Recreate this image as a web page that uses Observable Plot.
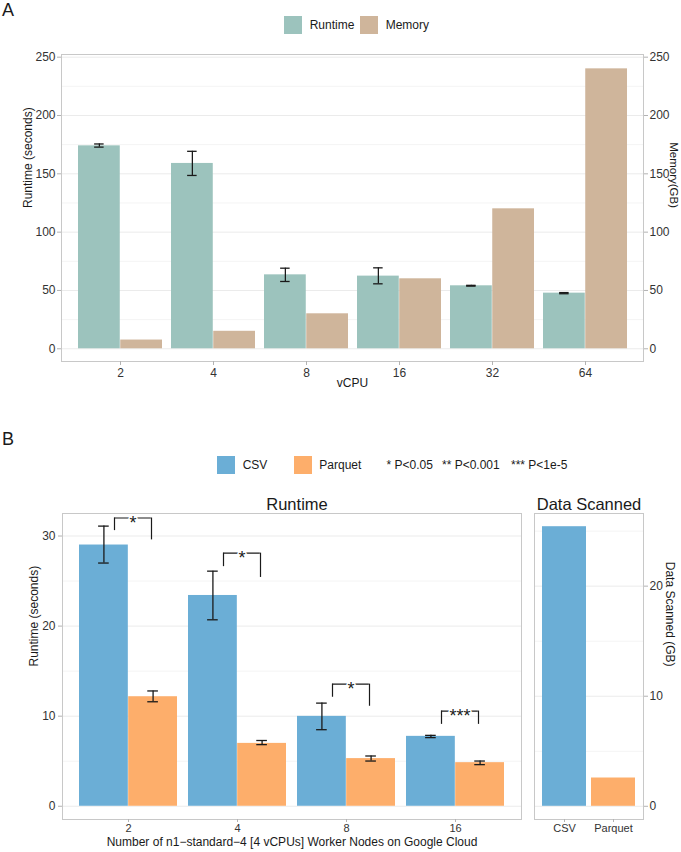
<!DOCTYPE html>
<html><head><meta charset="utf-8">
<script src="https://cdn.jsdelivr.net/npm/d3@7"></script>
<script src="https://cdn.jsdelivr.net/npm/@observablehq/plot@0.6"></script>
<style>
body{margin:0;background:#fff;}
#root{position:relative;width:681px;height:852px;font-family:"Liberation Sans",Arial,sans-serif;color:#1a1a1a;overflow:hidden;background:#fff}
.abs{position:absolute;white-space:nowrap}
.tag{font-size:18px;line-height:18px}
.lt{font-size:12px;line-height:12px}
.sw{position:absolute;width:18px;height:18px}
</style></head><body><div id="root"></div>
<script>
// ---------- data: panel A ----------
const vcpu = ["2","4","8","16","32","64"];
const runtimeSec = [174.0, 158.9, 63.4, 62.3, 54.0, 47.7];
const runtimeLo  = [172.9, 148.6, 57.7, 55.7, 53.7, 47.2];
const runtimeHi  = [175.6, 169.3, 69.1, 69.4, 54.4, 48.2];
const memoryGB   = [7.5, 15, 30, 60, 120, 240];
const seriesA = ["Runtime","Memory"];
const colorsA = ["#9cc3bd","#cfb59b"];
const ticksA = [0,50,100,150,200,250];
const minorA = [25,75,125,175,225];

// ---------- data: panel B ----------
const nodes = ["2","4","8","16"];
const csvSec     = [29.0, 23.4, 9.98, 7.76];
const csvLo      = [27.0, 20.7, 8.5, 7.62];
const csvHi      = [31.1, 26.1, 11.45, 7.87];
const parquetSec = [12.16, 6.98, 5.29, 4.84];
const parquetLo  = [11.6, 6.84, 5.02, 4.62];
const parquetHi  = [12.8, 7.3, 5.58, 5.02];
const sigLabel   = ["*","*","*","***"];
const sigTop     = [32.0, 28.1, 13.56, 10.57];
const sigLeftEnd = [30.6, 26.6, 12.1, 9.09];
const sigRightEnd= [29.57, 25.4, 11.1, 9.09];
const formats = ["CSV","Parquet"];
const colorsB = ["#6baed6","#fdae6b"];
const dataScannedGB = [25.4, 2.57];
const ticksB = [0,10,20,30];
const minorB = [5,15,25];
const ticksScan = [0,10,20];
const minorScan = [5,15,25];
const pLegend = ["* P<0.05","** P<0.001","*** P<1e-5"];

// ---------- layout ----------
const FONT = '"Liberation Sans", Arial, sans-serif';
const INK = "#1a1a1a", TXT = "#333333", TICK = "#b3b3b3", FRAME = "#c8c8c8", GRID = "#ebebeb", GRID2 = "#f4f4f4";
const root = document.getElementById("root");
function place(node, left, top){ node.style.position="absolute"; node.style.left=left+"px"; node.style.top=top+"px"; root.appendChild(node); }
function label(txt, cls, left, top){ const d=document.createElement("div"); d.className="abs "+cls; d.textContent=txt; d.style.left=left+"px"; d.style.top=top+"px"; root.appendChild(d); }
function swatch(color, left, top){ const d=document.createElement("div"); d.className="sw"; d.style.background=color; d.style.left=left+"px"; d.style.top=top+"px"; root.appendChild(d); }

// tags and legends
label("A","tag",2,1);
swatch(colorsA[0],283.5,15.5); label(seriesA[0],"lt",309.7,18.5);
swatch(colorsA[1],360,15.5);   label(seriesA[1],"lt",385.7,18.5);

label("B","tag",2,430);
swatch(colorsB[0],217,455.5); label(formats[0],"lt",242.7,458.5);
swatch(colorsB[1],293.5,455.5); label(formats[1],"lt",319.3,458.5);
[386.5,442,511].forEach((x,i)=>label(pLegend[i],"lt",x,458.5));

const baseStyle = {fontFamily: FONT, fontSize: "12px", background: "transparent", color: INK, overflow: "visible"};

// ---------- Panel A ----------
{
  const W=681,H=360,ml=61,mr=38,mt=14,mb=39;
  const step=(W-ml-mr)/(vcpu.length-0.1+0.3), bw=step*0.9, cap=5;
  const rows = vcpu.map((v,i)=>({v, rt:runtimeSec[i], lo:runtimeLo[i], hi:runtimeHi[i], mem:memoryGB[i]}));
  const p = Plot.plot({
    width:W,height:H,marginLeft:ml,marginRight:mr,marginTop:mt,marginBottom:mb,
    style:baseStyle,
    x:{type:"band",domain:vcpu,paddingInner:0.1,paddingOuter:0.15},
    y:{domain:[-10.9,252.3]},
    marks:[
      Plot.gridY(minorA,{stroke:GRID2,strokeOpacity:1}),
      Plot.gridY(ticksA,{stroke:GRID,strokeOpacity:1}),
      Plot.barY(rows,{x:"v",y:"rt",fill:colorsA[0],insetRight:bw/2}),
      Plot.barY(rows,{x:"v",y:"mem",fill:colorsA[1],insetLeft:bw/2}),
      Plot.ruleX(rows,{x:"v",y1:"lo",y2:"hi",dx:-bw/4,stroke:INK,strokeWidth:1.3}),
      Plot.tickY(rows,{x:"v",y:"lo",insetLeft:bw/4-cap,insetRight:3*bw/4-cap,stroke:INK,strokeWidth:1.3}),
      Plot.tickY(rows,{x:"v",y:"hi",insetLeft:bw/4-cap,insetRight:3*bw/4-cap,stroke:INK,strokeWidth:1.3}),
      Plot.frame({stroke:FRAME}),
      Plot.axisY(ticksA,{anchor:"left",tickSize:4,tickPadding:2,stroke:TICK,fill:TXT,label:null,fontSize:12}),
      Plot.axisY(ticksA,{anchor:"right",tickSize:4,tickPadding:2,stroke:TICK,fill:TXT,label:null,fontSize:12}),
      Plot.axisX({tickSize:4,tickPadding:3,stroke:TICK,fill:TXT,label:null,fontSize:12}),
      Plot.text(["Runtime (seconds)"],{text:d=>d,frameAnchor:"left",rotate:-90,dx:-33.5,fontSize:12,fill:INK}),
      Plot.text(["Memory(GB)"],{text:d=>d,frameAnchor:"right",rotate:90,dx:30.5,fontSize:11.5,fill:INK}),
      Plot.text(["vCPU"],{text:d=>d,frameAnchor:"bottom",dy:25.5,fontSize:12,fill:INK})
    ]
  });
  place(p,0,40);
}

// ---------- Panel B: Runtime ----------
{
  const W=527,H=372,ml=62,mr=6,mt=33,mb=33;
  const step=(W-ml-mr)/(nodes.length-0.1+0.3), bw=step*0.9, cap=5.5;
  const sigL=-14, sigR=23;
  const rows = nodes.map((n,i)=>({n, csv:csvSec[i], cLo:csvLo[i], cHi:csvHi[i], pq:parquetSec[i], pLo:parquetLo[i], pHi:parquetHi[i],
    s:sigLabel[i], top:sigTop[i], le:sigLeftEnd[i], re:sigRightEnd[i]}));
  const capL = {insetLeft:bw/4-cap, insetRight:3*bw/4-cap};
  const capR = {insetLeft:3*bw/4-cap, insetRight:bw/4-cap};
  const eb = {stroke:INK,strokeWidth:1.3};
  const p = Plot.plot({
    width:W,height:H,marginLeft:ml,marginRight:mr,marginTop:mt,marginBottom:mb,
    style:baseStyle,
    x:{type:"band",domain:nodes,paddingInner:0.1,paddingOuter:0.15},
    y:{domain:[-1.47,32.5]},
    marks:[
      Plot.gridY(minorB,{stroke:GRID2,strokeOpacity:1}),
      Plot.gridY(ticksB,{stroke:GRID,strokeOpacity:1}),
      Plot.barY(rows,{x:"n",y:"csv",fill:colorsB[0],insetRight:bw/2}),
      Plot.barY(rows,{x:"n",y:"pq",fill:colorsB[1],insetLeft:bw/2}),
      Plot.ruleX(rows,{x:"n",y1:"cLo",y2:"cHi",dx:-bw/4,...eb}),
      Plot.tickY(rows,{x:"n",y:"cLo",...capL,...eb}),
      Plot.tickY(rows,{x:"n",y:"cHi",...capL,...eb}),
      Plot.ruleX(rows,{x:"n",y1:"pLo",y2:"pHi",dx:bw/4,...eb}),
      Plot.tickY(rows,{x:"n",y:"pLo",...capR,...eb}),
      Plot.tickY(rows,{x:"n",y:"pHi",...capR,...eb}),
      // significance brackets
      Plot.tickY(rows,{x:"n",y:"top",insetLeft:bw/2+sigL,insetRight:bw/2-sigR,stroke:INK,strokeWidth:1.2}),
      Plot.ruleX(rows,{x:"n",y1:"le",y2:"top",dx:sigL,stroke:INK,strokeWidth:1.2}),
      Plot.ruleX(rows,{x:"n",y1:"re",y2:"top",dx:sigR,stroke:INK,strokeWidth:1.2}),
      Plot.text(rows,{x:"n",y:"top",text:"s",dx:(sigL+sigR)/2,dy:5,fontSize:18,fill:INK,stroke:"white",strokeWidth:3,paintOrder:"stroke"}),
      Plot.frame({stroke:FRAME}),
      Plot.axisY(ticksB,{anchor:"left",tickSize:4,tickPadding:3,stroke:TICK,fill:TXT,label:null,fontSize:12}),
      Plot.axisX({tickSize:3,tickPadding:2,stroke:TICK,fill:TXT,label:null,fontSize:11}),
      Plot.text(["Runtime (seconds)"],{text:d=>d,frameAnchor:"left",rotate:-90,dx:-28,fontSize:12,fill:INK}),
      Plot.text(["Number of n1\u2212standard\u22124 [4 vCPUs] Worker Nodes on Google Cloud"],{text:d=>d,frameAnchor:"bottom",dy:26,fontSize:12,fill:INK}),
      Plot.text(["Runtime"],{text:d=>d,frameAnchor:"top",lineAnchor:"bottom",dy:-4,dx:5,fontSize:16.5,fill:INK})
    ]
  });
  place(p,0,480);
}

// ---------- Panel B: Data Scanned ----------
{
  const W=154,H=372,ml=7,mr=38,mt=33,mb=33;
  const rows = formats.map((f,i)=>({f, gb:dataScannedGB[i], c:colorsB[i]}));
  const p = Plot.plot({
    width:W,height:H,marginLeft:ml,marginRight:mr,marginTop:mt,marginBottom:mb,
    style:baseStyle,
    x:{type:"band",domain:formats,paddingInner:0.1,paddingOuter:0.15},
    y:{domain:[-1.2,26.6]},
    color:{domain:formats,range:colorsB},
    marks:[
      Plot.gridY(minorScan,{stroke:GRID2,strokeOpacity:1}),
      Plot.gridY(ticksScan,{stroke:GRID,strokeOpacity:1}),
      Plot.barY(rows,{x:"f",y:"gb",fill:"f"}),
      Plot.frame({stroke:FRAME}),
      Plot.axisY(ticksScan,{anchor:"right",tickSize:4,tickPadding:2,stroke:TICK,fill:TXT,label:null,fontSize:12}),
      Plot.axisX({tickSize:3,tickPadding:2,stroke:TICK,fill:TXT,label:null,fontSize:11}),
      Plot.text(["Data Scanned (GB)"],{text:d=>d,frameAnchor:"right",rotate:90,dx:26.5,fontSize:12,fill:INK}),
      Plot.text(["Data Scanned"],{text:d=>d,frameAnchor:"top",lineAnchor:"bottom",dy:-4,fontSize:16.5,fill:INK})
    ]
  });
  place(p,527,480);
}
</script></body></html>
